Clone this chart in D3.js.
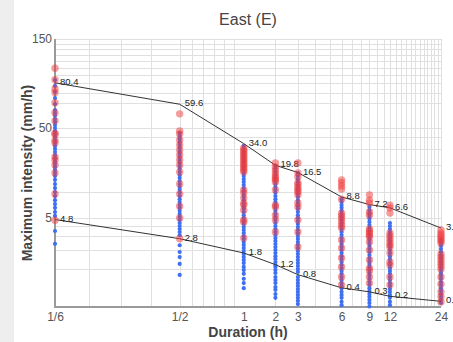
<!DOCTYPE html>
<html>
<head>
<meta charset="utf-8">
<script src="https://cdn.jsdelivr.net/npm/d3@7"></script>
<style>
  body { margin: 0; background: #fff; }
  svg { display: block; font-family: Arial, "Liberation Sans", sans-serif; }
</style>
</head>
<body>
<script>
// durations (h) and their tick labels
const durations = [1 / 6, 1 / 2, 1, 2, 3, 6, 9, 12, 24];
const durationLabels = ["1/6", "1/2", "1", "2", "3", "6", "9", "12", "24"];

// envelope lines (mm/h)
const upperValues = [80.4, 59.6, 34.0, 19.8, 16.5, 8.8, 7.2, 6.6, 3.8];
const lowerValues = [4.8, 2.8, 1.8, 1.2, 0.8, 0.4, 0.3, 0.2, 0.1];

// observed maximum intensities per duration (blue) and highlighted ones (red)
const blueValues = [
  [83.7, 76.9, 70.5, 64.7, 59.7, 57.1, 55.9, 54.7, 53.4, 52.3, 51.1, 50, 46.4, 43.1, 40.1, 37.2, 34.5, 32.1, 29.8, 27.6, 25.6, 23.8, 22.1, 20.5, 19, 17.6, 16.3, 15.1, 13.7, 12.3, 11.1, 10, 9, 8.1, 7.3, 6.6, 5.9, 5.3, 3.5, 2.4],
  [44.2, 41, 38.2, 35.4, 32.9, 30.5, 28.3, 26.3, 24.4, 22.6, 21, 19.5, 18.1, 16.7, 15.5, 14.4, 13.3, 12.3, 11.4, 10.6, 9.8, 9, 8.3, 7.7, 7.1, 6.6, 6.1, 5.6, 5.15, 4.75, 4.37, 4.02, 3.7, 3.4, 3.1, 2.3, 1.86, 1.57, 1.23, 0.79],
  [32.1, 29.8, 27.6, 25.6, 23.8, 22.1, 20.5, 19, 17.6, 16.3, 15.1, 14, 13, 12, 11.1, 10.3, 9.5, 8.8, 8.1, 7.5, 6.9, 6.4, 5.9, 5.4, 5, 4.6, 4.25, 3.9, 3.6, 3.3, 3.03, 2.78, 2.54, 2.32, 2.11, 1.92, 1.74, 1.57, 1.42, 1.27, 1.1, 0.97, 0.83, 0.66, 0.53, 0.39],
  [19.5, 18.1, 16.7, 15.5, 14.4, 13.3, 12.3, 11.4, 10.6, 9.8, 9, 8.3, 7.7, 7.1, 6.6, 6.1, 5.6, 5.15, 4.75, 4.37, 4.02, 3.7, 3.4, 3.12, 2.86, 2.62, 2.39, 2.18, 1.98, 1.8, 1.62, 1.47, 1.32, 1.18, 1.1, 0.97, 0.86, 0.72, 0.62, 0.53, 0.42, 0.35, 0.25, 0.17],
  [16.3, 15.1, 14, 13, 12, 11.1, 10.3, 9.5, 8.8, 8.1, 7.5, 6.9, 6.4, 5.9, 5.4, 5, 4.6, 4.25, 3.9, 3.6, 3.3, 3.03, 2.78, 2.54, 2.32, 2.11, 1.92, 1.74, 1.57, 1.42, 1.27, 1.14, 1.01, 0.9, 0.72, 0.62, 0.53, 0.45, 0.37, 0.3, 0.23, 0.17, 0.11, 0.05],
  [8.3, 7.7, 7.1, 6.6, 6.1, 5.6, 5.15, 4.75, 4.37, 4.02, 3.7, 3.4, 3.12, 2.86, 2.62, 2.39, 2.18, 1.98, 1.8, 1.62, 1.47, 1.32, 1.18, 1.05, 0.94, 0.83, 0.72, 0.62, 0.53, 0.45, 0.39, 0.3, 0.23, 0.17, 0.09, 0.03],
  [6.75, 6.2, 5.75, 5.3, 4.9, 4.5, 4.13, 3.8, 3.5, 3.2, 2.95, 2.7, 2.46, 2.25, 2.04, 1.86, 1.68, 1.52, 1.37, 1.23, 1.1, 0.97, 0.86, 0.76, 0.66, 0.56, 0.48, 0.39, 0.32, 0.25, 0.19, 0.13, 0.07, 0.01],
  [4.37, 4.02, 3.7, 3.4, 3.12, 2.86, 2.62, 2.39, 2.18, 1.98, 1.8, 1.62, 1.47, 1.32, 1.18, 1.05, 0.94, 0.83, 0.72, 0.62, 0.53, 0.45, 0.37, 0.3, 0.23, 0.17, 0.09, 0.03],
  [2.7, 2.46, 2.25, 2.04, 1.86, 1.68, 1.52, 1.37, 1.23, 1.1, 0.97, 0.86, 0.76, 0.66, 0.56, 0.48, 0.39, 0.32, 0.25, 0.19, 0.13, 0.07],
];
const redValues = [
  [99, 84, 74, 70, 60.5, 56, 52.7, 44, 42.5, 37, 34.5, 24.4, 22.6, 20, 16.3, 9.5, 4.7],
  [55.5, 46.4, 43.1, 37.2, 32.9, 29, 25.6, 22.6, 20, 16.7, 12.3, 9.5, 6.9, 5, 2.8],
  [30.5, 29, 27.6, 26.3, 25, 23.8, 22.6, 21.5, 20.5, 19.5, 18.5, 17.6, 16.7, 10.6, 9.8, 8.6, 7.5, 7.1, 6.2, 4.75, 4.5, 2.85],
  [21, 19, 17.6, 16.3, 15.1, 14.4, 13.7, 13, 10.6, 7.1, 6.75, 5.4, 4.75, 3.4],
  [21, 16.3, 14.7, 12.7, 12, 11.1, 10.6, 10, 9.3, 7.5, 6.75, 4.75, 3.4, 2.18],
  [13.7, 12.7, 11.7, 10.8, 8.3, 5.7, 5.3, 4.9, 4.5, 4.1, 3.8, 2.7, 2.11, 1.52, 1.1, 0.72, 0.48],
  [9.3, 8.1, 7.5, 5.9, 5.4, 3.7, 3.5, 3.3, 3.1, 2.95, 2.54, 1.98, 1.42, 1.05, 0.94, 0.72, 0.53],
  [7.1, 6.6, 5.75, 3.3, 3.03, 2.78, 2.54, 2.32, 2.18, 1.8, 1.32, 1.18, 0.72, 0.48],
  [3.6, 3.3, 3.12, 2.95, 2.78, 2.62, 2.46, 1.74, 1.57, 1.42, 1.27, 1.14, 1.01, 0.72, 0.5, 0.3, 0.19, 0.09],
];

// axis ticks and gridlines
const yTicks = [150, 50, 5];
const yGrid = [1, 2, 3, 4, 5, 10, 20, 30, 40, 50, 60, 70, 80, 90, 100, 110, 120, 130, 140, 150];
const minuteGrid = [15, 20, 25, 30, 35, 40, 45, 50, 55];
const hourGrid = [2, 3, 4, 5, 6, 7, 8, 9, 10, 11, 12, 13, 14, 15, 16, 17, 18, 19, 20, 21, 22, 23, 24];

const width = 453,
  height = 342;
const margin = { top: 39, right: 12, bottom: 35, left: 55 };
const w = width - margin.left - margin.right;
const h = height - margin.top - margin.bottom;

// the axes are mirror-log like, stretched differently below / above 1 h
const x = d3
  .scaleSymlog()
  .constant(1)
  .domain([1 / 6, 1 / 2, 1, 24])
  .range([0, w * 0.323, w * 0.489, w]);

const y = d3
  .scaleSymlog()
  .constant(0.7)
  .domain([0, 5, 50, 60, 150])
  .range([h, h * 0.668, h * 0.332, h * 0.24, 0]);

const svg = d3
  .select("body")
  .append("svg")
  .attr("width", width)
  .attr("height", height);

svg.append("rect").attr("width", 14).attr("height", height).attr("fill", "#eeeeee");

const g = svg.append("g").attr("transform", `translate(${margin.left},${margin.top})`);

// gridlines
g.append("g")
  .selectAll("line")
  .data(yGrid)
  .join("line")
  .attr("x1", 0)
  .attr("x2", w)
  .attr("y1", (d) => Math.round(y(d)) + 0.5)
  .attr("y2", (d) => Math.round(y(d)) + 0.5)
  .attr("stroke", "#e0e0e0");

g.append("g")
  .selectAll("line")
  .data(minuteGrid.map((m) => m / 60).concat(hourGrid))
  .join("line")
  .attr("x1", (d) => Math.round(x(d)) + 0.5)
  .attr("x2", (d) => Math.round(x(d)) + 0.5)
  .attr("y1", 0)
  .attr("y2", h)
  .attr("stroke", "#e0e0e0");

// axes
const yAxis = g
  .append("g")
  .call(d3.axisLeft(y).tickValues(yTicks).tickFormat(d3.format("d")).tickSize(0).tickPadding(3));
const xAxis = g
  .append("g")
  .attr("transform", `translate(0,${h})`)
  .call(d3.axisBottom(x).tickValues(durations).tickFormat((d, i) => durationLabels[i]).tickSize(0).tickPadding(5));

[yAxis, xAxis].forEach((a) => {
  a.select(".domain").remove();
  a.selectAll("text").attr("fill", "#555").attr("font-size", 12).attr("font-family", "Arial, 'Liberation Sans', sans-serif");
});

g.append("line").attr("x1", 0).attr("x2", 0).attr("y1", 0).attr("y2", h).attr("stroke", "#9a9a9a").attr("stroke-width", 2);
g.append("line").attr("x1", -1).attr("x2", w).attr("y1", h).attr("y2", h).attr("stroke", "#9a9a9a").attr("stroke-width", 2);

// blue points
const bluePts = blueValues.flatMap((vals, i) => vals.map((v) => ({ d: durations[i], v })));
const redPts = redValues.flatMap((vals, i) => vals.map((v) => ({ d: durations[i], v })));

g.append("g")
  .selectAll("circle")
  .data(bluePts)
  .join("circle")
  .attr("cx", (p) => x(p.d))
  .attr("cy", (p) => y(p.v))
  .attr("r", 2.1)
  .attr("fill", "#3f6ff2");

// envelope lines and their labels
const line = d3
  .line()
  .x((v, i) => x(durations[i]))
  .y((v) => y(v));

[upperValues, lowerValues].forEach((vals) => {
  g.append("path").datum(vals).attr("d", line).attr("fill", "none").attr("stroke", "#333").attr("stroke-width", 1);

  g.append("g")
    .selectAll("text")
    .data(vals)
    .join("text")
    .attr("x", (v, i) => x(durations[i]) + 5)
    .attr("y", (v) => y(v) + 2)
    .attr("font-size", 9.5)
    .attr("fill", "#222")
    .text((v) => d3.format(".1f")(v));
});

// red points
g.append("g")
  .selectAll("circle")
  .data(redPts)
  .join("circle")
  .attr("cx", (p) => x(p.d))
  .attr("cy", (p) => y(p.v))
  .attr("r", 3.7)
  .attr("fill", "#f03a3a")
  .attr("fill-opacity", 0.5);

// titles
svg
  .append("text")
  .attr("x", margin.left + w / 2)
  .attr("y", 25)
  .attr("text-anchor", "middle")
  .attr("font-size", 16)
  .attr("fill", "#444")
  .text("East (E)");

svg
  .append("text")
  .attr("x", margin.left + w / 2)
  .attr("y", 337)
  .attr("text-anchor", "middle")
  .attr("font-size", 14)
  .attr("font-weight", "bold")
  .attr("fill", "#444")
  .text("Duration (h)");

svg
  .append("text")
  .attr("transform", `translate(32,${margin.top + h / 2}) rotate(-90)`)
  .attr("text-anchor", "middle")
  .attr("font-size", 14)
  .attr("font-weight", "bold")
  .attr("fill", "#444")
  .text("Maximum intensity (mm/h)");
</script>
</body>
</html>
